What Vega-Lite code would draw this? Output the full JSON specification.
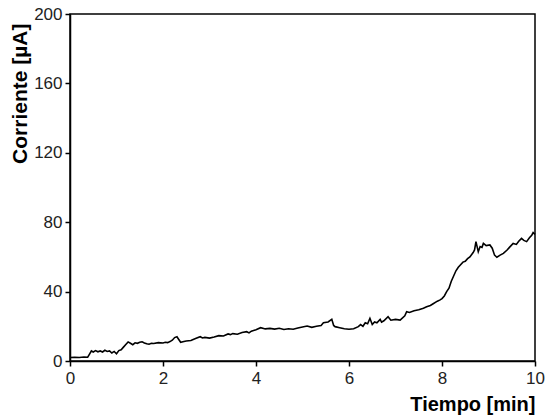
{
  "$schema": "https://vega.github.io/schema/vega-lite/v6.json",
  "width": 465,
  "height": 347,
  "autosize": "none",
  "padding": {"left": 70, "top": 14, "right": 15, "bottom": 58},
  "background": "white",
  "config": {
    "view": {"stroke": "black", "strokeWidth": 1.5},
    "font": "Liberation Sans"
  },
  "data": {
    "values": [
      {"t": 0, "v": 2}, {"t": 0.1, "v": 2.2}, {"t": 0.2, "v": 2.0}, {"t": 0.3, "v": 2.3}, {"t": 0.38, "v": 2.2},
      {"t": 0.42, "v": 4}, {"t": 0.46, "v": 5.8}, {"t": 0.5, "v": 5.2}, {"t": 0.55, "v": 6}, {"t": 0.6, "v": 5.3},
      {"t": 0.65, "v": 5.8}, {"t": 0.7, "v": 5.2}, {"t": 0.75, "v": 6.2}, {"t": 0.8, "v": 5.5}, {"t": 0.85, "v": 5.8},
      {"t": 0.9, "v": 4.6}, {"t": 0.95, "v": 5.5}, {"t": 1.0, "v": 4.2}, {"t": 1.05, "v": 6}, {"t": 1.1, "v": 6.5},
      {"t": 1.15, "v": 8}, {"t": 1.2, "v": 9.5}, {"t": 1.25, "v": 11}, {"t": 1.3, "v": 10.2}, {"t": 1.35, "v": 9.4},
      {"t": 1.4, "v": 10.5}, {"t": 1.45, "v": 10.2}, {"t": 1.5, "v": 10.8}, {"t": 1.55, "v": 11.1}, {"t": 1.6, "v": 10.4},
      {"t": 1.65, "v": 9.9}, {"t": 1.7, "v": 9.7}, {"t": 1.75, "v": 10.2}, {"t": 1.8, "v": 10.1}, {"t": 1.9, "v": 10.6},
      {"t": 2.0, "v": 10.4}, {"t": 2.05, "v": 10.8}, {"t": 2.1, "v": 10.6}, {"t": 2.15, "v": 11.2}, {"t": 2.2, "v": 12},
      {"t": 2.25, "v": 13.5}, {"t": 2.3, "v": 14}, {"t": 2.35, "v": 12}, {"t": 2.38, "v": 10.8}, {"t": 2.45, "v": 11.2},
      {"t": 2.5, "v": 11.5}, {"t": 2.6, "v": 11.8}, {"t": 2.7, "v": 13}, {"t": 2.8, "v": 14}, {"t": 2.85, "v": 13.3},
      {"t": 2.9, "v": 13.6}, {"t": 3.0, "v": 13.2}, {"t": 3.1, "v": 13.8}, {"t": 3.2, "v": 14.6}, {"t": 3.3, "v": 14.4},
      {"t": 3.4, "v": 15.6}, {"t": 3.45, "v": 15.2}, {"t": 3.5, "v": 15.8}, {"t": 3.6, "v": 15.4}, {"t": 3.7, "v": 16.4},
      {"t": 3.8, "v": 16.9}, {"t": 3.85, "v": 16.2}, {"t": 3.9, "v": 17.2}, {"t": 4.0, "v": 18}, {"t": 4.1, "v": 19.2},
      {"t": 4.2, "v": 18.5}, {"t": 4.3, "v": 18.8}, {"t": 4.4, "v": 18.4}, {"t": 4.5, "v": 18.9}, {"t": 4.6, "v": 18.2},
      {"t": 4.7, "v": 18.6}, {"t": 4.8, "v": 18.3}, {"t": 4.9, "v": 19}, {"t": 5.0, "v": 19.6}, {"t": 5.1, "v": 20.2},
      {"t": 5.2, "v": 19.4}, {"t": 5.3, "v": 20}, {"t": 5.4, "v": 20.5}, {"t": 5.45, "v": 22}, {"t": 5.55, "v": 22.5},
      {"t": 5.63, "v": 24}, {"t": 5.67, "v": 20.5}, {"t": 5.7, "v": 19.8}, {"t": 5.8, "v": 19.2}, {"t": 5.9, "v": 18.6},
      {"t": 6.0, "v": 18.3}, {"t": 6.1, "v": 18.6}, {"t": 6.2, "v": 19.8}, {"t": 6.25, "v": 21}, {"t": 6.3, "v": 20},
      {"t": 6.35, "v": 22}, {"t": 6.4, "v": 21.5}, {"t": 6.45, "v": 24.6}, {"t": 6.5, "v": 21}, {"t": 6.55, "v": 22.5},
      {"t": 6.6, "v": 22}, {"t": 6.67, "v": 24}, {"t": 6.7, "v": 22.4}, {"t": 6.75, "v": 23.2}, {"t": 6.84, "v": 25.5},
      {"t": 6.9, "v": 23.5}, {"t": 7.0, "v": 24}, {"t": 7.1, "v": 23.6}, {"t": 7.2, "v": 26}, {"t": 7.24, "v": 28.4},
      {"t": 7.3, "v": 28}, {"t": 7.4, "v": 29}, {"t": 7.5, "v": 29.5}, {"t": 7.6, "v": 30.4}, {"t": 7.67, "v": 31.3},
      {"t": 7.75, "v": 32}, {"t": 7.81, "v": 33}, {"t": 7.9, "v": 34.5}, {"t": 7.96, "v": 35.2}, {"t": 8.0, "v": 36},
      {"t": 8.05, "v": 37.5}, {"t": 8.1, "v": 40}, {"t": 8.15, "v": 42}, {"t": 8.2, "v": 46}, {"t": 8.25, "v": 49},
      {"t": 8.3, "v": 52}, {"t": 8.35, "v": 54}, {"t": 8.4, "v": 55.5}, {"t": 8.45, "v": 57}, {"t": 8.5, "v": 57.5},
      {"t": 8.55, "v": 59}, {"t": 8.6, "v": 60}, {"t": 8.67, "v": 62.5}, {"t": 8.7, "v": 64}, {"t": 8.73, "v": 68.8},
      {"t": 8.78, "v": 63}, {"t": 8.82, "v": 66}, {"t": 8.86, "v": 65.5}, {"t": 8.89, "v": 67.8}, {"t": 8.95, "v": 66.5},
      {"t": 9.03, "v": 66.9}, {"t": 9.08, "v": 65}, {"t": 9.13, "v": 61}, {"t": 9.18, "v": 59.8}, {"t": 9.25, "v": 61},
      {"t": 9.32, "v": 62}, {"t": 9.4, "v": 64}, {"t": 9.45, "v": 65.5}, {"t": 9.53, "v": 67.8}, {"t": 9.6, "v": 67.2},
      {"t": 9.65, "v": 69}, {"t": 9.71, "v": 70.7}, {"t": 9.76, "v": 69.5}, {"t": 9.82, "v": 68.8}, {"t": 9.88, "v": 71},
      {"t": 9.93, "v": 72.5}, {"t": 9.96, "v": 74}, {"t": 10.0, "v": 73}
    ]
  },
  "mark": {"type": "line", "color": "black", "strokeWidth": 1.6, "interpolate": "linear"},
  "encoding": {
    "x": {
      "field": "t", "type": "quantitative",
      "scale": {"domain": [0, 10], "nice": false, "zero": false},
      "axis": {
        "title": "Tiempo [min]", "values": [0, 2, 4, 6, 8, 10], "grid": false,
        "domainColor": "black", "domainWidth": 1.5, "tickColor": "black", "tickWidth": 1.5, "tickSize": 5,
        "labelFontSize": 17, "labelColor": "#222", "labelPadding": 4, "labelFlush": false,
        "titleFontSize": 20, "titleFontWeight": "bold", "titleColor": "black",
        "titleAnchor": "end", "titlePadding": 8
      }
    },
    "y": {
      "field": "v", "type": "quantitative",
      "scale": {"domain": [0, 200], "nice": false},
      "axis": {
        "title": "Corriente [µA]", "values": [0, 40, 80, 120, 160, 200], "grid": false,
        "domainColor": "black", "domainWidth": 1.5, "tickColor": "black", "tickWidth": 1.5, "tickSize": 5,
        "labelFontSize": 17, "labelColor": "#222", "labelPadding": 3, "labelFlush": false,
        "titleFontSize": 21, "titleFontWeight": "bold", "titleColor": "black",
        "titleAngle": -90, "titleAlign": "right", "titleBaseline": "alphabetic",
        "titleX": -44, "titleY": 9
      }
    }
  }
}
